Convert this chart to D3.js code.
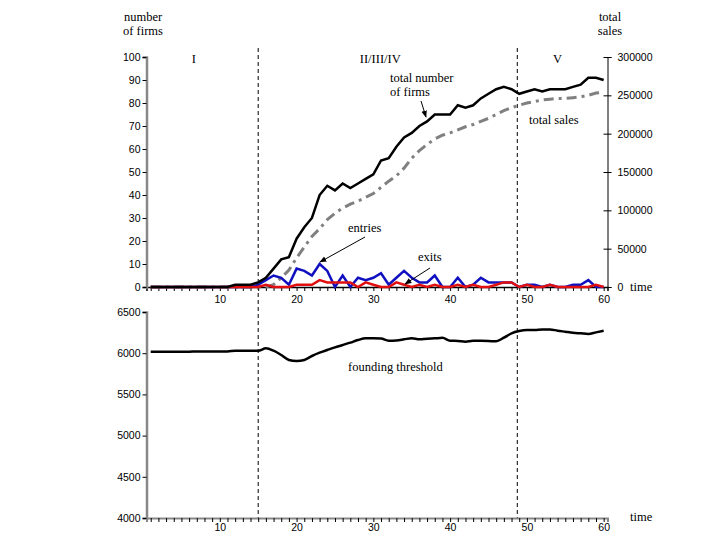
<!DOCTYPE html>
<html><head><meta charset="utf-8">
<script src="https://cdn.jsdelivr.net/npm/d3@7"></script>
<style>
body{margin:0;background:#fff;}
svg text.serif{font-family:"Liberation Serif","Times New Roman",serif;font-size:12.5px;fill:#000;}
svg .tick text{font-family:"Liberation Sans",Arial,sans-serif;font-size:10.5px;fill:#000;}
</style>
</head><body>
<svg id="c" width="720" height="540"></svg>
<script>
const times = [1,2,3,4,5,6,7,8,9,10,11,12,13,14,15,16,17,18,19,20,21,22,23,24,25,26,27,28,29,30,
31,32,33,34,35,36,37,38,39,40,41,42,43,44,45,46,47,48,49,50,51,52,53,54,55,56,57,58,59,60];
const firms = [0,0,0,0,0,0,0,0,0,0, 0,1,1,1,2,4,8,12,13,21, 26,30,40,44,42,45,43,45,47,49,
55,56,61,65,67,70,72,75,75,75, 79,78,79,82,84,86,87,86,84,85, 86,85,86,86,86,87,88,91,91,90];
const sales = [0,0,0,0,0,0,0,0,0,0, 0,0,0,0,0,0,3000,12000,22000,38000,
52000,66000,76000,88000,96000,103000,108000,112000,117000,122000,
130000,138000,145000,155000,168000,178000,186000,193000,198000,201000,
205000,209000,212000,216000,220000,225000,230000,234000,237000,240000,
242000,244000,245000,246000,246000,247000,248000,250000,253000,254000];
const entries = [0,0,0,0,0,0,0,0,0,0, 0,0,0,0,1,3,5,4,1,8, 7,5,10,7,0,5,0,4,3,4,
6,1,4,7,4,2,2,5,0,0, 4,0,1,4,2,2,2,2,0,1, 1,0,1,0,0,1,1,3,0,0];
const exits = [0,0,0,0,0,0,0,0,0,0, 0,0,0,0,0,1,0,0,0,1, 1,1,3,2,2,2,2,0,2,1,
0,0,2,1,0,1,0,1,0,0, 1,0,1,0,0,1,2,2,0,1, 0,0,1,0,0,0,0,0,1,0];
const threshold = [6018,6018,6018,6018,6018,6018,6021,6021,6021,6021,
6021,6030,6030,6030,6030,6059,6030,5978,5918,5905,
5918,5966,6006,6039,6071,6099,6128,6160,6180,6180,
6178,6152,6155,6168,6182,6168,6176,6180,6186,6152,
6148,6140,6150,6150,6148,6144,6188,6241,6269,6281,
6281,6289,6289,6273,6261,6249,6241,6233,6253,6273];
const firmTicks = [0,10,20,30,40,50,60,70,80,90,100];
const salesTicks = [0,50000,100000,150000,200000,250000,300000];
const thresholdTicks = [4000,4500,5000,5500,6000,6500];
const timeLabels = [10,20,30,40,50,60];
const phaseBreaks = [15,48.75];
const phaseLabels = [{t:6.6,label:"I"},{t:30.9,label:"II/III/IV"},{t:54.0,label:"V"}];

const svg = d3.select("#c");
const fmt = d3.format("d");
const x = d3.scaleLinear().domain([0.45,60.5]).range([146.5,607.5]);
const yF = d3.scaleLinear().domain([0,100]).range([287,57]);
const yS = d3.scaleLinear().domain([0,300000]).range([287,57]);
const yT = d3.scaleLinear().domain([4000,6500]).range([518,312]);

// dashed phase lines
svg.selectAll("line.phase").data(phaseBreaks).enter().append("line")
  .attr("x1",d=>x(d)).attr("x2",d=>x(d)).attr("y1",48).attr("y2",518)
  .attr("stroke","#000").attr("stroke-width",1).attr("stroke-dasharray","4,3");

// top x axis
const xTop = svg.append("g").attr("transform","translate(0,287)")
  .call(d3.axisBottom(x).tickValues(times).tickSize(4).tickFormat(""));
xTop.select(".domain").attr("stroke","#000").attr("stroke-width",1.5);
const xTopL = svg.append("g").attr("transform","translate(0,287)")
  .call(d3.axisBottom(x).tickValues(timeLabels).tickSize(0).tickPadding(9).tickFormat(fmt));
xTopL.select(".domain").remove();

// bottom x axis
const xBot = svg.append("g").attr("transform","translate(0,518)")
  .call(d3.axisBottom(x).tickValues(times).tickSize(4).tickFormat(""));
xBot.select(".domain").attr("stroke","#888").attr("stroke-width",2);
const xBotL = svg.append("g").attr("transform","translate(0,518)")
  .call(d3.axisBottom(x).tickValues(timeLabels).tickSize(0).tickPadding(6).tickFormat(fmt));
xBotL.select(".domain").remove();

// left axis top
const yl = svg.append("g").attr("transform","translate(146.5,0)")
  .call(d3.axisLeft(yF).tickValues(firmTicks).tickSize(4).tickPadding(2).tickFormat(fmt));
yl.select(".domain").attr("stroke","#888").attr("stroke-width",2.5);

// right axis
const yr = svg.append("g").attr("transform","translate(607.5,0)")
  .call(d3.axisRight(yS).tickValues(salesTicks).tickSize(4).tickPadding(6).tickFormat(fmt));
yr.select(".domain").attr("stroke","#000").attr("stroke-width",1);
yr.selectAll(".tick line").attr("x1",-4);

// left axis bottom
const yb = svg.append("g").attr("transform","translate(146.5,0)")
  .call(d3.axisLeft(yT).tickValues(thresholdTicks).tickSize(4).tickPadding(2).tickFormat(fmt));
yb.select(".domain").attr("stroke","#888").attr("stroke-width",2.5);

// lines
const lineF = d3.line().x((d,i)=>x(times[i])).y(d=>yF(d));
const lineS = d3.line().x((d,i)=>x(times[i])).y(d=>yS(d));
const lineT = d3.line().x((d,i)=>x(times[i])).y(d=>yT(d)).curve(d3.curveMonotoneX);

svg.append("path").datum(sales).attr("d",lineS).attr("fill","none")
  .attr("stroke","#808080").attr("stroke-width",3).attr("stroke-dasharray","10,5,3,5");
svg.append("path").datum(entries).attr("d",lineF).attr("fill","none")
  .attr("stroke","#1010c0").attr("stroke-width",2.5);
svg.append("path").datum(exits).attr("d",lineF).attr("fill","none")
  .attr("stroke","#e01010").attr("stroke-width",2.5);
svg.append("path").datum(firms).attr("d",lineF).attr("fill","none")
  .attr("stroke","#000").attr("stroke-width",2.5);
svg.append("path").datum(threshold).attr("d",lineT).attr("fill","none")
  .attr("stroke","#000").attr("stroke-width",2.5);

// text labels
function txt(xp,yp,s,anchor){
  svg.append("text").attr("class","serif").attr("x",xp).attr("y",yp)
    .attr("text-anchor",anchor||"start").text(s);
}
txt(143,21,"number","middle");
txt(143,35,"of firms","middle");
txt(610,21,"total","middle");
txt(610,35,"sales","middle");
phaseLabels.forEach(p=>txt(x(p.t),63,p.label,"middle"));
txt(390,82,"total number");
txt(390,96,"of firms");
txt(529,124,"total sales");
txt(348,232,"entries");
txt(418,261,"exits");
txt(348,371,"founding threshold");
txt(630,291,"time");
txt(630,521,"time");

// arrows
const defs = svg.append("defs");
defs.append("marker").attr("id","ah").attr("viewBox","0 0 10 10").attr("refX",9).attr("refY",5)
  .attr("markerWidth",7).attr("markerHeight",7).attr("orient","auto")
  .append("path").attr("d","M0,1 L10,5 L0,9 Z").attr("fill","#000");
function arrow(x1,y1,x2,y2){
  svg.append("line").attr("x1",x1).attr("y1",y1).attr("x2",x2).attr("y2",y2)
    .attr("stroke","#000").attr("stroke-width",1).attr("marker-end","url(#ah)");
}
arrow(421,101,426,117);
arrow(365,237,320,262);
arrow(430,268,405,284);
</script>
</body></html>
